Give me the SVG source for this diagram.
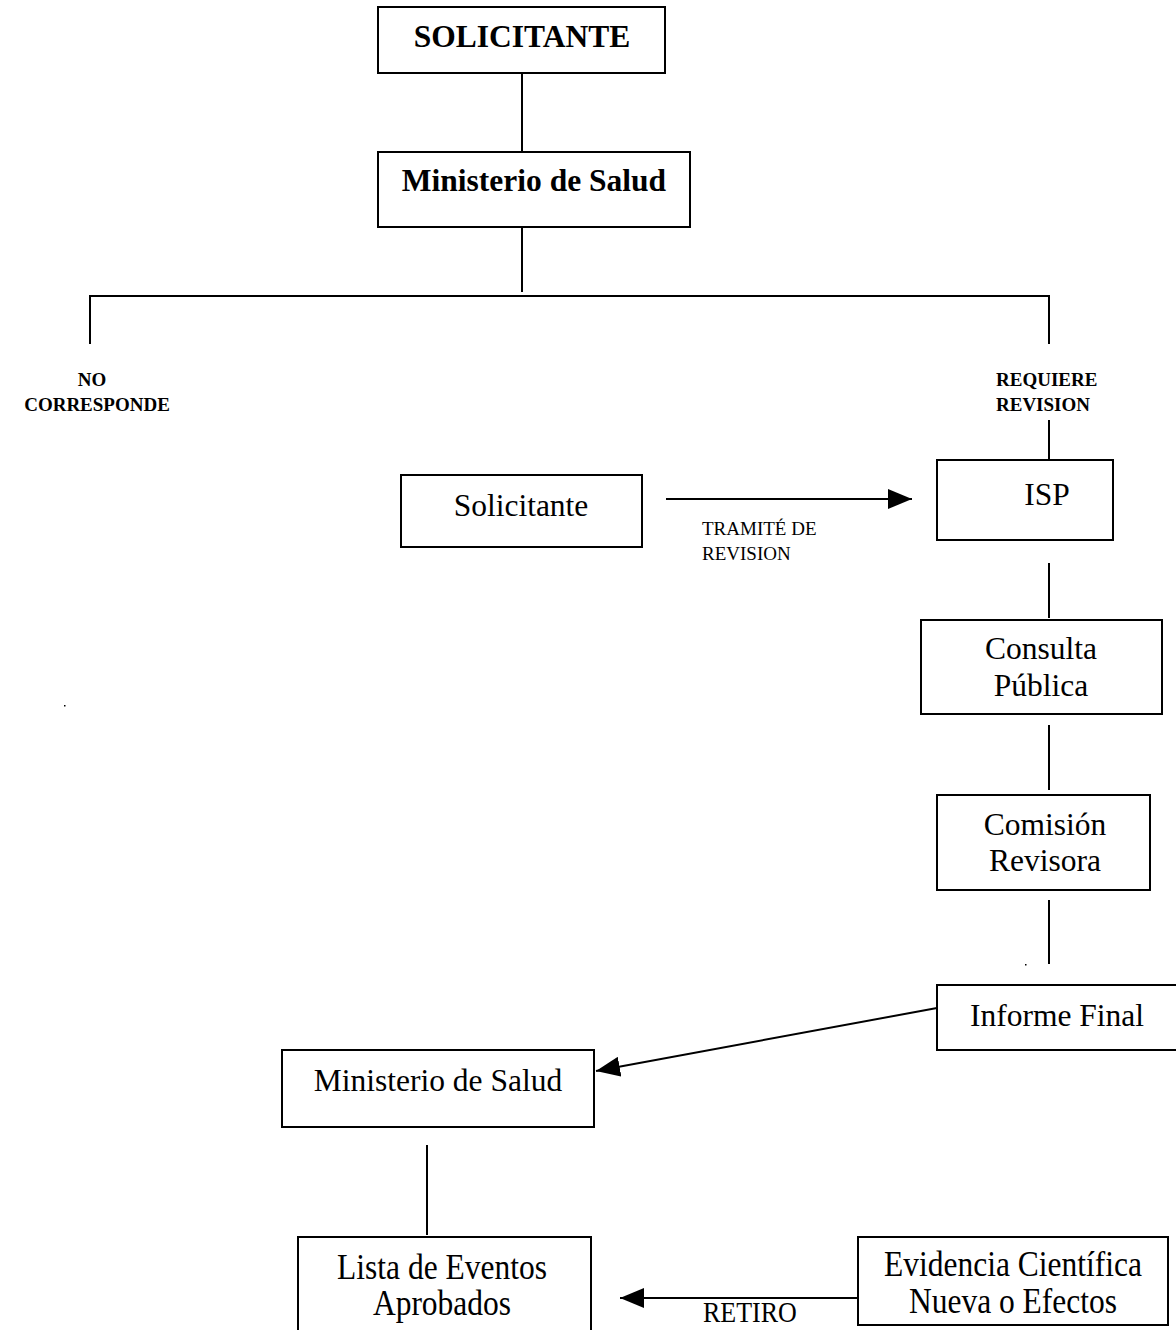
<svg xmlns="http://www.w3.org/2000/svg" width="1176" height="1330" viewBox="0 0 1176 1330">
<style>
.box{fill:#fff;stroke:#000;stroke-width:2}
.ln{stroke:#000;stroke-width:2;fill:none}
.t{font-family:"Liberation Serif","Times New Roman",serif;fill:#000}
.big{font-size:31.5px;text-anchor:middle}
.bold{font-weight:bold}
.sm{font-size:19px}
</style>
<defs>
<marker id="ah" viewBox="0 0 10 10" refX="10" refY="5" markerWidth="10" markerHeight="10" markerUnits="userSpaceOnUse" orient="auto">
<path d="M0,0 L10,5 L0,10 z" fill="#000"/>
</marker>
<marker id="ah2" viewBox="0 0 24 20" refX="24" refY="10" markerWidth="24" markerHeight="20" markerUnits="userSpaceOnUse" orient="auto">
<path d="M0,0 L24,10 L0,20 z" fill="#000"/>
</marker>
</defs>
<g id="connectors">
<line class="ln" x1="522" y1="73" x2="522" y2="152"/>
<line class="ln" x1="522" y1="227" x2="522" y2="292"/>
<polyline class="ln" points="90,344 90,296 1049,296 1049,344"/>
<line class="ln" x1="1049" y1="420" x2="1049" y2="460"/>
<line class="ln" x1="666" y1="499" x2="912" y2="499" marker-end="url(#ah2)"/>
<line class="ln" x1="1049" y1="563" x2="1049" y2="618"/>
<line class="ln" x1="1049" y1="725" x2="1049" y2="790"/>
<line class="ln" x1="1049" y1="900" x2="1049" y2="964"/>
<line class="ln" x1="937" y1="1008" x2="596" y2="1071" marker-end="url(#ah2)"/>
<line class="ln" x1="427" y1="1145" x2="427" y2="1235"/>
<line class="ln" x1="857" y1="1298" x2="620" y2="1298" marker-end="url(#ah2)"/>
</g>
<g id="n-solicitante-top">
<rect class="box" x="378" y="7" width="287" height="66"/>
<text class="t big bold" x="522" y="47">SOLICITANTE</text>
</g>
<g id="n-minsal-top">
<rect class="box" x="378" y="152" width="312" height="75"/>
<text class="t big bold" x="534" y="191">Ministerio de Salud</text>
</g>
<g id="n-no-corresponde">
<text class="t sm bold" x="92" y="386" text-anchor="middle">NO</text>
<text class="t sm bold" x="97" y="411" text-anchor="middle">CORRESPONDE</text>
</g>
<g id="n-requiere">
<text class="t sm bold" x="996" y="386">REQUIERE</text>
<text class="t sm bold" x="996" y="411">REVISION</text>
</g>
<g id="n-solicitante">
<rect class="box" x="401" y="475" width="241" height="72"/>
<text class="t big" x="521" y="516">Solicitante</text>
</g>
<g id="l-tramite">
<text class="t sm" x="702" y="535">TRAMITÉ DE</text>
<text class="t sm" x="702" y="560">REVISION</text>
</g>
<g id="n-isp">
<rect class="box" x="937" y="460" width="176" height="80"/>
<text class="t big" x="1047" y="505">ISP</text>
</g>
<g id="n-consulta">
<rect class="box" x="921" y="620" width="241" height="94"/>
<text class="t big" x="1041" y="659">Consulta</text>
<text class="t big" x="1041" y="696">Pública</text>
</g>
<g id="n-comision">
<rect class="box" x="937" y="795" width="213" height="95"/>
<text class="t big" x="1045" y="835">Comisión</text>
<text class="t big" x="1045" y="871">Revisora</text>
</g>
<g id="n-informe">
<rect class="box" x="937" y="985" width="245" height="65"/>
<text class="t big" x="1057" y="1026">Informe Final</text>
<rect x="1025" y="964" width="1.5" height="1.5" fill="#000"/>
</g>
<g id="n-minsal">
<rect class="box" x="282" y="1050" width="312" height="77"/>
<text class="t big" x="438" y="1091">Ministerio de Salud</text>
</g>
<g id="n-lista">
<rect class="box" x="298" y="1237" width="293" height="100"/>
<text class="t big" transform="translate(442 1279) scale(1 1.15)">Lista de Eventos</text>
<text class="t big" transform="translate(442 1315) scale(1 1.15)">Aprobados</text>
</g>
<g id="n-evidencia">
<rect class="box" x="858" y="1237" width="310" height="88"/>
<text class="t big" transform="translate(1013 1276) scale(1 1.15)">Evidencia Científica</text>
<text class="t big" transform="translate(1013 1313) scale(1 1.15)">Nueva o Efectos</text>
</g>
<g id="l-retiro">
<text class="t" font-size="26" transform="translate(703 1322) scale(1 1.15)">RETIRO</text>
</g>
<rect x="64" y="705" width="1.5" height="1.5" fill="#000"/>
</svg>
